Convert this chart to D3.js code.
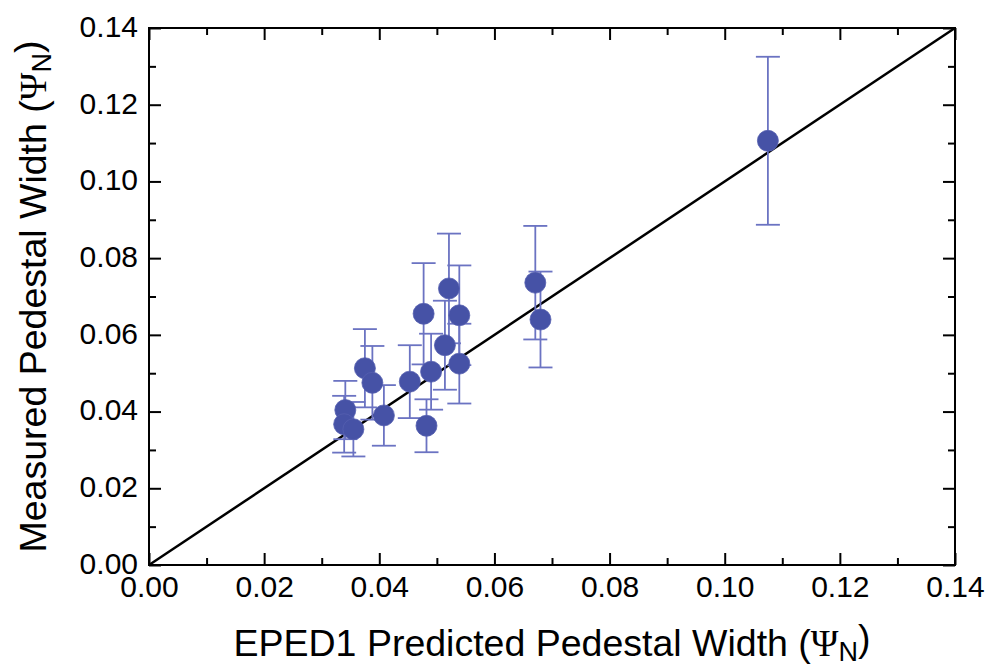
<!DOCTYPE html>
<html>
<head>
<meta charset="utf-8">
<script src="https://cdn.jsdelivr.net/npm/d3@7"></script>
<style>
  html, body { margin: 0; padding: 0; background: #fff; }
  svg { display: block; font-family: "Liberation Sans", Arial, Helvetica, sans-serif; }
</style>
</head>
<body>
<div id="chart"></div>
<script>
// EPED1 predicted vs measured pedestal width
var predicted = [0.0341, 0.0339, 0.0355, 0.0375, 0.0388, 0.0408, 0.0453, 0.0477, 0.0482,
                 0.0490, 0.0514, 0.0521, 0.0539, 0.0539, 0.0671, 0.0680, 0.1075];
var measured  = [0.0404, 0.0367, 0.0354, 0.0513, 0.0475, 0.0390, 0.0478, 0.0655, 0.0363,
                 0.0504, 0.0573, 0.0721, 0.0651, 0.0525, 0.0736, 0.0640, 0.1106];
var errors    = [0.0076, 0.0074, 0.0071, 0.0102, 0.0096, 0.0079, 0.0095, 0.0132, 0.0069,
                 0.0099, 0.0116, 0.0143, 0.0130, 0.0104, 0.0148, 0.0125, 0.0219];
var majorTicks = [0, 0.02, 0.04, 0.06, 0.08, 0.10, 0.12, 0.14];
var minorTicks = [0.01, 0.03, 0.05, 0.07, 0.09, 0.11, 0.13];

var width = 987, height = 666;
var margin = ({top: 28, right: 32, bottom: 101, left: 149});

var data = predicted.map(function(d, i) {
  return {x: d, y: measured[i], err: errors[i]};
});

var svg = d3.select("#chart")
  .append("svg")
  .attr("width", width)
  .attr("height", height)
  .attr("viewBox", [0, 0, width, height]);

var x = d3.scaleLinear()
  .domain([0, 0.14])
  .range([margin.left, width - margin.right]);
var y = d3.scaleLinear()
  .domain([0, 0.14])
  .range([height - margin.bottom, margin.top]);

var fmt = d3.format(".2f");

function styleAxis(g) {
  g.select(".domain").remove();
  g.selectAll(".tick line").attr("stroke", "#000").attr("stroke-width", 2);
  g.selectAll(".tick text").attr("fill", "#000").style("font-size", "30px")
    .style("font-family", "'Liberation Sans', Arial, sans-serif");
}

// bottom axis with labels, ticks pointing inward
svg.append("g")
  .attr("transform", `translate(0,${y(0)})`)
  .call(d3.axisBottom(x).tickValues(majorTicks).tickFormat(fmt).tickSize(-12).tickPadding(11))
  .call(styleAxis);
svg.append("g")
  .attr("transform", `translate(0,${y(0)})`)
  .call(d3.axisBottom(x).tickValues(minorTicks).tickFormat("").tickSize(-7))
  .call(styleAxis);

// top mirror
svg.append("g")
  .attr("transform", `translate(0,${y(0.14)})`)
  .call(d3.axisTop(x).tickValues(majorTicks).tickFormat("").tickSize(-12))
  .call(styleAxis);
svg.append("g")
  .attr("transform", `translate(0,${y(0.14)})`)
  .call(d3.axisTop(x).tickValues(minorTicks).tickFormat("").tickSize(-7))
  .call(styleAxis);

// left axis with labels
svg.append("g")
  .attr("transform", `translate(${x(0)},0)`)
  .call(d3.axisLeft(y).tickValues(majorTicks).tickFormat(fmt).tickSize(-12).tickPadding(11))
  .call(styleAxis)
  .call(g => g.selectAll(".tick text").attr("dy", "0.28em"));
svg.append("g")
  .attr("transform", `translate(${x(0)},0)`)
  .call(d3.axisLeft(y).tickValues(minorTicks).tickFormat("").tickSize(-7))
  .call(styleAxis);

// right mirror
svg.append("g")
  .attr("transform", `translate(${x(0.14)},0)`)
  .call(d3.axisRight(y).tickValues(majorTicks).tickFormat("").tickSize(-12))
  .call(styleAxis);
svg.append("g")
  .attr("transform", `translate(${x(0.14)},0)`)
  .call(d3.axisRight(y).tickValues(minorTicks).tickFormat("").tickSize(-7))
  .call(styleAxis);

// frame
svg.append("rect")
  .attr("x", x(0))
  .attr("y", y(0.14))
  .attr("width", x(0.14) - x(0))
  .attr("height", y(0) - y(0.14))
  .attr("fill", "none")
  .attr("stroke", "#000")
  .attr("stroke-width", 2);

// y = x line
svg.append("line")
  .attr("x1", x(0)).attr("y1", y(0))
  .attr("x2", x(0.14)).attr("y2", y(0.14))
  .attr("stroke", "#000")
  .attr("stroke-width", 2.5);

// error bars
var capHalf = 12;
var bars = svg.append("g")
  .attr("stroke", "#6b73c2")
  .attr("stroke-width", 1.8)
  .selectAll("g")
  .data(data)
  .join("g");
bars.append("line")
  .attr("x1", d => x(d.x)).attr("x2", d => x(d.x))
  .attr("y1", d => y(d.y + d.err)).attr("y2", d => y(d.y - d.err));
bars.append("line")
  .attr("x1", d => x(d.x) - capHalf).attr("x2", d => x(d.x) + capHalf)
  .attr("y1", d => y(d.y + d.err)).attr("y2", d => y(d.y + d.err));
bars.append("line")
  .attr("x1", d => x(d.x) - capHalf).attr("x2", d => x(d.x) + capHalf)
  .attr("y1", d => y(d.y - d.err)).attr("y2", d => y(d.y - d.err));

// points
svg.append("g")
  .selectAll("circle")
  .data(data)
  .join("circle")
    .attr("cx", d => x(d.x))
    .attr("cy", d => y(d.y))
    .attr("r", 10.5)
    .attr("fill", "#4652a6")
    .attr("stroke", "#5560b0")
    .attr("stroke-width", 0.8);

// axis titles
function addTitle(text, pre) {
  text.append("tspan").text(pre + " (");
  text.append("tspan").style("font-family", "'Liberation Serif', 'Times New Roman', serif").text("\u03A8");
  text.append("tspan").attr("dy", "0.2em").style("font-size", "27px").text("N");
  text.append("tspan").attr("dy", "-0.27em").text(")");
}

svg.append("text")
  .attr("x", (x(0) + x(0.14)) / 2)
  .attr("y", 656)
  .attr("text-anchor", "middle")
  .style("font-size", "37.5px")
  .call(addTitle, "EPED1 Predicted Pedestal Width");

svg.append("text")
  .attr("transform", `translate(46,${(y(0) + y(0.14)) / 2}) rotate(-90)`)
  .attr("text-anchor", "middle")
  .style("font-size", "37.5px")
  .call(addTitle, "Measured Pedestal Width");
</script>
</body>
</html>
